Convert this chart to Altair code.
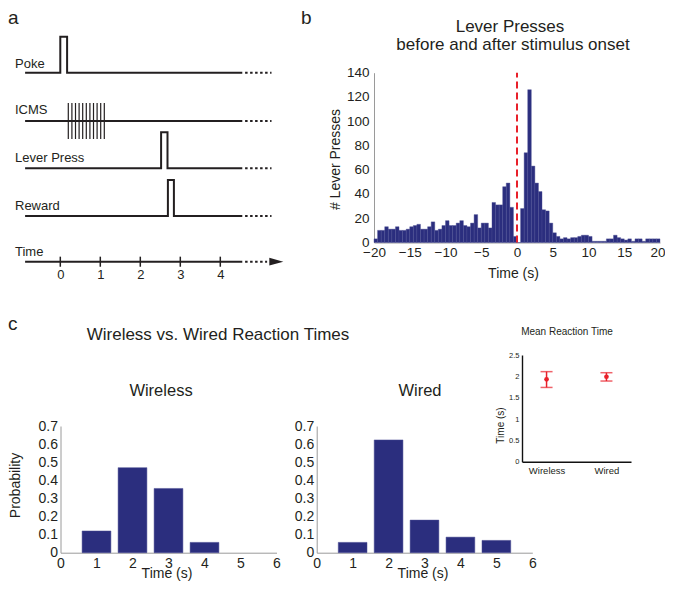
import altair as alt
import pandas as pd

W, H = 657, 573
FONT = "Liberation Sans"
INK = "#231F20"
NAVY = "#2B2E7E"
RED = "#E8202A"
AX_GRAY = "#9A9A9A"

# ---------------- data ----------------
# panel a : event traces (time in s, level 0/1)
poke_t = [-0.88, 0.0, 0.0, 0.17, 0.17, 4.55]
poke_v = [0, 0, 1, 1, 0, 0]
icms_t = [-0.88, 4.55]
icms_v = [0, 0]
icms_pulse_t = [0.2, 0.29, 0.38, 0.47, 0.56, 0.65, 0.74, 0.83, 0.92, 1.01, 1.1]
lever_t = [-0.88, 2.52, 2.52, 2.68, 2.68, 4.55]
lever_v = [0, 0, 1, 1, 0, 0]
reward_t = [-0.88, 2.69, 2.69, 2.84, 2.84, 4.55]
reward_v = [0, 0, 1, 1, 0, 0]
timeline_t = [-0.88, 4.55]
trace_cont_t = [4.62, 5.28]
timeline_cont_t = [4.62, 5.17]
arrow_t = [5.4]
time_ticks = [0, 1, 2, 3, 4]

# panel b : lever presses per 0.5 s bin, -20 s .. 20 s
hist_before = [3, 10, 10, 13, 11, 11, 13, 10, 10, 11,
               13, 14, 15, 11, 11, 13, 17, 10, 11, 14,
               18, 14, 14, 16, 18, 14, 13, 16, 23, 12,
               16, 16, 12, 33, 31, 31, 46, 49, 29, 5]
hist_after = [0, 28, 74, 126, 63, 49, 42, 27, 26, 16,
              8, 5, 3, 4, 3, 4, 4, 5, 6, 6,
              5, 1, 1, 1, 1, 3, 3, 6, 4, 3,
              2, 3, 1, 3, 3, 1, 3, 3, 3, 3]
lever_counts = hist_before + hist_after
bin_width = 0.5
bin_start = [-20 + bin_width * i for i in range(len(lever_counts))]
onset_t = [0]

# panel c : reaction time distributions
wireless_t = [1, 2, 3, 4]
wireless_prob = [0.12, 0.47, 0.355, 0.057]
wired_t = [1, 2, 3, 4, 5]
wired_prob = [0.057, 0.623, 0.18, 0.086, 0.068]
groups = ["Wireless", "Wired"]
mean_rt = [1.93, 1.99]
rt_lo = [1.74, 1.89]
rt_hi = [2.11, 2.085]


# ---------------- helpers ----------------
def lin(domain, rng):
    return alt.Scale(domain=domain, range=rng, nice=False, zero=False)


AX = dict(labelFont=FONT, titleFont=FONT, grid=False, ticks=False, tickSize=0,
          labelColor=INK, titleColor=INK, domainColor=AX_GRAY, domainWidth=1,
          titleFontWeight="normal", labelFlush=False, labelOverlap=False)


def label(text, x, y, size, align="left", color=INK):
    return alt.Chart(pd.DataFrame({"s": [text]})).mark_text(
        align=align, baseline="middle", fontSize=size, color=color, font=FONT
    ).encode(x=alt.value(x), y=alt.value(y), text="s:N")


# ---------------- panel a ----------------
XA_DOM, XA_RNG = [0, 4], [52.3, 212.3]


def ya(base):
    return lin([0, 1], [base, base - 36])


def trace(t, v, base, dash=None):
    df = pd.DataFrame({"t": t, "v": v, "i": list(range(len(t)))})
    kw = dict(color=INK, strokeWidth=2)
    if dash:
        kw["strokeDash"] = dash
    return alt.Chart(df).mark_line(**kw).encode(
        x=alt.X("t:Q", scale=lin(XA_DOM, XA_RNG), axis=None),
        y=alt.Y("v:Q", scale=ya(base), axis=None),
        order="i:O",
    )


BASES = {"Poke": 64.7, "ICMS": 113.0, "Lever Press": 160.3, "Reward": 208.0, "Time": 253.7}

layers = []
layers.append(trace(poke_t, poke_v, BASES["Poke"]))
layers.append(trace(trace_cont_t, [0, 0], BASES["Poke"], [2.5, 2.5]))
layers.append(trace(icms_t, icms_v, BASES["ICMS"]))
layers.append(trace(trace_cont_t, [0, 0], BASES["ICMS"], [2.5, 2.5]))
pulses = pd.DataFrame({"t": icms_pulse_t, "lo": [-0.5] * len(icms_pulse_t), "hi": [0.5] * len(icms_pulse_t)})
layers.append(alt.Chart(pulses).mark_rule(color=INK, strokeWidth=1.2).encode(
    x=alt.X("t:Q", scale=lin(XA_DOM, XA_RNG), axis=None),
    y=alt.Y("lo:Q", scale=ya(BASES["ICMS"]), axis=None),
    y2="hi:Q",
))
layers.append(trace(lever_t, lever_v, BASES["Lever Press"]))
layers.append(trace(trace_cont_t, [0, 0], BASES["Lever Press"], [2.5, 2.5]))
layers.append(trace(reward_t, reward_v, BASES["Reward"]))
layers.append(trace(trace_cont_t, [0, 0], BASES["Reward"], [2.5, 2.5]))

# time line with axis labels
tl = pd.DataFrame({"t": timeline_t, "v": [0, 0], "i": [0, 1]})
layers.append(alt.Chart(tl).mark_line(color=INK, strokeWidth=2).encode(
    x=alt.X("t:Q", scale=lin(XA_DOM, XA_RNG),
            axis=alt.Axis(orient="bottom", offset=BASES["Time"] - H, values=time_ticks,
                          format="d", domain=False, labelFontSize=13, labelPadding=7,
                          title=None, **{k: v for k, v in AX.items() if k not in ("domainColor", "domainWidth")})),
    y=alt.Y("v:Q", scale=ya(BASES["Time"]), axis=None),
    order="i:O",
))
layers.append(trace(timeline_cont_t, [0, 0], BASES["Time"], [2.5, 2.5]))
ticks_df = pd.DataFrame({"t": time_ticks, "lo": [-0.14] * 5, "hi": [0.14] * 5})
layers.append(alt.Chart(ticks_df).mark_rule(color=INK, strokeWidth=1.5).encode(
    x=alt.X("t:Q", scale=lin(XA_DOM, XA_RNG), axis=None),
    y=alt.Y("lo:Q", scale=ya(BASES["Time"]), axis=None),
    y2="hi:Q",
))
arrow_df = pd.DataFrame({"t": arrow_t, "v": [0]})
layers.append(alt.Chart(arrow_df).mark_point(
    shape="M -1 -0.55 L 1 0 L -1 0.55 Z", size=196, filled=True, color=INK, opacity=1
).encode(
    x=alt.X("t:Q", scale=lin(XA_DOM, XA_RNG), axis=None),
    y=alt.Y("v:Q", scale=ya(BASES["Time"]), axis=None),
))

layers.append(label("a", 0, 9.5, 19))
layers.append(label("Poke", 7, 56, 13))
layers.append(label("ICMS", 7, 102, 13))
layers.append(label("Lever Press", 7, 149.7, 13))
layers.append(label("Reward", 7, 197.7, 13))
layers.append(label("Time", 7, 244.3, 13))

# ---------------- panel b ----------------
XB = lambda: lin([-20, 20], [366, 652])
YB = lambda: lin([0, 140], [234.5, 64.7])
hist = pd.DataFrame({"start": bin_start, "end": [s + bin_width for s in bin_start], "count": lever_counts})
layers.append(alt.Chart(hist).mark_bar(color=NAVY, stroke="#4A4D92", strokeWidth=0.4).encode(
    x=alt.X("start:Q", scale=XB(),
            axis=alt.Axis(orient="bottom", offset=234.5 - H, values=list(range(-20, 21, 5)),
                          format="d", labelFontSize=13.5, labelPadding=2.5,
                          labelAlign=alt.ConditionalAxisLabelAlign(
                              condition={"test": "datum.value >= 20", "value": "right"}, value="center"),
                          labelOffset=alt.ConditionalAxisNumber(
                              condition={"test": "datum.value >= 20", "value": 5}, value=0),
                          title="Time (s)", titleFontSize=14, titleX=505, titleY=31,
                          titleBaseline="middle", titleAlign="center", **AX)),
    x2="end:Q",
    y=alt.Y("count:Q", scale=YB(),
            axis=alt.Axis(orient="left", offset=-366, values=list(range(0, 141, 20)),
                          format="d", labelFontSize=13.5, labelPadding=5,
                          title="# Lever Presses", titleFontSize=14, titleX=-39, titleY=151,
                          titleAngle=270, titleBaseline="middle", titleAlign="center", **AX)),
    y2=alt.datum(0),
))
onset = pd.DataFrame({"t": onset_t, "lo": [0], "hi": [140]})
layers.append(alt.Chart(onset).mark_rule(color=RED, strokeWidth=2, strokeDash=[7, 4]).encode(
    x=alt.X("t:Q", scale=XB(), axis=None),
    y=alt.Y("lo:Q", scale=YB(), axis=None),
    y2="hi:Q",
))
layers.append(label("b", 293, 9.5, 19))
layers.append(label("Lever Presses", 502, 18.7, 17, align="center"))
layers.append(label("before and after stimulus onset", 505, 37, 17, align="center"))

# ---------------- panel c ----------------
YC = lambda: lin([0, 0.7], [544.7, 418])
prob_vals = [0, 0.1, 0.2, 0.3, 0.4, 0.5, 0.6, 0.7]


def rt_hist(ts, ps, xr, ytitle):
    df = pd.DataFrame({"t": ts, "p": ps})
    yax = dict(orient="left", offset=-xr[0], values=prob_vals, format="~g",
               labelFontSize=14, labelPadding=3)
    if ytitle:
        yax.update(title=ytitle, titleFontSize=14, titleX=7.5 - xr[0], titleY=477,
                   titleAngle=270, titleBaseline="middle", titleAlign="center")
    else:
        yax.update(title=None)
    return alt.Chart(df).transform_calculate(
        lo="datum.t - 0.4", hi="datum.t + 0.4"
    ).mark_bar(color=NAVY, stroke="#4A4D92", strokeWidth=0.5).encode(
        x=alt.X("lo:Q", scale=lin([0, 6], xr),
                axis=alt.Axis(orient="bottom", offset=544.7 - H, values=list(range(0, 7)),
                              format="d", labelFontSize=14, labelPadding=4,
                              title="Time (s)", titleFontSize=14,
                              titleX=(xr[0] + xr[1]) / 2 - 2, titleY=21,
                              titleBaseline="middle", titleAlign="center", **AX)),
        x2="hi:Q",
        y=alt.Y("p:Q", scale=YC(), axis=alt.Axis(**yax, **AX)),
        y2=alt.datum(0),
    )


layers.append(rt_hist(wireless_t, wireless_prob, [52.5, 268.5], "Probability"))
layers.append(rt_hist(wired_t, wired_prob, [308.7, 524.3], None))
layers.append(label("c", 0, 316, 19))
layers.append(label("Wireless vs. Wired Reaction Times", 210, 327, 17, align="center"))
layers.append(label("Wireless", 153, 383, 16.5, align="center"))
layers.append(label("Wired", 412, 383, 16.5, align="center"))

# inset: mean reaction time
XI = lambda: alt.Scale(type="point", domain=groups, range=[514, 623], padding=0.41)
YI = lambda: lin([0, 2.5], [453.7, 347])
AXI = dict(AX)
AXI.update(domainColor="#111111", domainWidth=1.4)
mrt = pd.DataFrame({"g": groups, "m": mean_rt, "lo": rt_lo, "hi": rt_hi})
layers.append(alt.Chart(mrt).mark_rule(color=RED, strokeWidth=1.5).encode(
    x=alt.X("g:N", scale=XI(), sort=groups,
            axis=alt.Axis(orient="bottom", offset=453.7 - H, labelFontSize=9.5,
                          labelPadding=4, labelAngle=0, title=None, **AXI)),
    y=alt.Y("lo:Q", scale=YI(),
            axis=alt.Axis(orient="left", offset=-514, values=[0, 0.5, 1, 1.5, 2, 2.5],
                          format="~g", labelFontSize=7.5, labelPadding=3,
                          title="Time (s)", titleFontSize=10, titleX=-22, titleY=417,
                          titleAngle=270, titleBaseline="middle", titleAlign="center", **AXI)),
    y2="hi:Q",
))
for fld in ("lo", "hi"):
    layers.append(alt.Chart(mrt).mark_tick(color=RED, size=12, thickness=1.5).encode(
        x=alt.X("g:N", scale=XI(), sort=groups, axis=None),
        y=alt.Y(f"{fld}:Q", scale=YI(), axis=None),
    ))
layers.append(alt.Chart(mrt).mark_circle(color=RED, size=22, opacity=1).encode(
    x=alt.X("g:N", scale=XI(), sort=groups, axis=None),
    y=alt.Y("m:Q", scale=YI(), axis=None),
))
layers.append(label("Mean Reaction Time", 559, 324, 10, align="center"))

chart = alt.layer(*layers).resolve_scale(
    x="independent", y="independent"
).resolve_axis(
    x="independent", y="independent"
).properties(
    width=W, height=H, padding=0, background="white",
    autosize=alt.AutoSizeParams(type="none"),
).configure(font=FONT).configure_view(strokeWidth=0)

chart.save("out.html", embed_options={"renderer": "svg", "actions": False})
